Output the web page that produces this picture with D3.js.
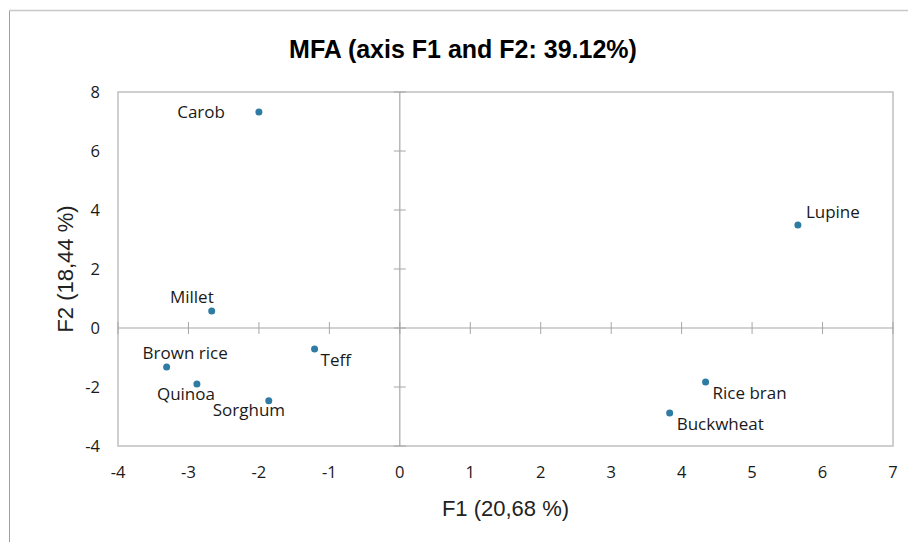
<!DOCTYPE html>
<html>
<head>
<meta charset="utf-8">
<script src="https://cdn.jsdelivr.net/npm/d3@7"></script>
<style>
  html, body { margin: 0; padding: 0; background: #fff; }
  svg { display: block; }
</style>
</head>
<body>
<svg id="chart" width="908" height="542"></svg>
<script>
// ---- data ----
const names = ["Carob", "Millet", "Brown rice", "Quinoa", "Sorghum", "Teff", "Lupine", "Rice bran", "Buckwheat"];
const f1 = [-2.00, -2.67, -3.31, -2.88, -1.86, -1.21, 5.65, 4.34, 3.83];
const f2 = [7.32, 0.58, -1.32, -1.90, -2.47, -0.71, 3.49, -1.83, -2.88];
const xTicks = [-4, -3, -2, -1, 0, 1, 2, 3, 4, 5, 6, 7];
const yTicks = [-4, -2, 0, 2, 4, 6, 8];
const titleText = "MFA (axis F1 and F2: 39.12%)";
const xTitle = "F1 (20,68 %)";
const yTitle = "F2 (18,44 %)";

// label placement (style): anchor, dx, dy (center offset)
const labelPlace = {
  "Carob": ["end", -34, 0],
  "Millet": ["end", 2, -14],
  "Brown rice": ["start", -24, -14],
  "Quinoa": ["start", -40, 10],
  "Sorghum": ["start", -56, 9],
  "Teff": ["start", 6, 11],
  "Lupine": ["start", 8, -13],
  "Rice bran": ["start", 7, 11],
  "Buckwheat": ["start", 7, 11]
};

const svg = d3.select("#chart");
const L = 118, R = 893, T = 92, B = 446;
const x = d3.scaleLinear().domain([-4, 7]).range([L, R]);
const y = d3.scaleLinear().domain([-4, 8]).range([B, T]);

const gridCol = "#bfbfbf";
const axisCol = "#a6a6a6";
const font = "'Open Sans', 'Noto Sans', sans-serif";

// outer chart border (top and left visible)
svg.append("line").attr("x1", 9.5).attr("x2", 908).attr("y1", 10.5).attr("y2", 10.5)
  .attr("stroke", "#c8c8c8").attr("stroke-width", 1.5);
svg.append("line").attr("x1", 9.5).attr("x2", 9.5).attr("y1", 10.5).attr("y2", 542)
  .attr("stroke", "#a0a0a0").attr("stroke-width", 1);

// title
svg.append("text").attr("x", 463).attr("y", 58).attr("text-anchor", "middle")
  .style("font-family", "'Liberation Sans', Arial, sans-serif")
  .style("font-weight", "bold").style("font-size", "25px").attr("fill", "#000")
  .text(titleText);

// plot box
svg.append("rect").attr("x", L).attr("y", T).attr("width", R - L).attr("height", B - T)
  .attr("fill", "none").attr("stroke", gridCol).attr("stroke-width", 1.5);

// zero axes
svg.append("line").attr("x1", x(0)).attr("x2", x(0)).attr("y1", T).attr("y2", B)
  .attr("stroke", axisCol).attr("stroke-width", 1.2);
svg.append("line").attr("x1", L).attr("x2", R).attr("y1", y(0)).attr("y2", y(0))
  .attr("stroke", axisCol).attr("stroke-width", 1.2);

// cross ticks on zero axes
svg.append("g").selectAll("line").data(yTicks).join("line")
  .attr("x1", x(0) - 6).attr("x2", x(0) + 6)
  .attr("y1", d => y(d)).attr("y2", d => y(d))
  .attr("stroke", axisCol).attr("stroke-width", 1);
svg.append("g").selectAll("line").data(xTicks).join("line")
  .attr("x1", d => x(d)).attr("x2", d => x(d))
  .attr("y1", y(0) - 6).attr("y2", y(0) + 6)
  .attr("stroke", axisCol).attr("stroke-width", 1);

// tick labels
svg.append("g").selectAll("text").data(xTicks).join("text")
  .attr("x", d => x(d)).attr("y", 478).attr("text-anchor", "middle")
  .style("font-family", font).style("font-size", "16.5px").attr("fill", "#1a1a1a")
  .text(d => d);
svg.append("g").selectAll("text").data(yTicks).join("text")
  .attr("x", 100).attr("y", d => y(d)).attr("dy", "0.35em").attr("text-anchor", "end")
  .style("font-family", font).style("font-size", "16.5px").attr("fill", "#1a1a1a")
  .text(d => d);

// axis titles
svg.append("text").attr("x", (L + R) / 2).attr("y", 516).attr("text-anchor", "middle")
  .style("font-family", "'Liberation Sans', Arial, sans-serif").style("font-size", "22px")
  .attr("fill", "#222").text(xTitle);
svg.append("text").attr("transform", `translate(73,${(T + B) / 2}) rotate(-90)`)
  .attr("text-anchor", "middle")
  .style("font-family", "'Liberation Sans', Arial, sans-serif").style("font-size", "22px")
  .attr("fill", "#222").text(yTitle);

// points
const pts = names.map((n, i) => ({ name: n, f1: f1[i], f2: f2[i] }));
svg.append("g").selectAll("circle").data(pts).join("circle")
  .attr("cx", d => x(d.f1)).attr("cy", d => y(d.f2)).attr("r", 3.5)
  .attr("fill", "#2e7ba3");

// labels
svg.append("g").selectAll("text").data(pts).join("text")
  .attr("x", d => x(d.f1) + labelPlace[d.name][1])
  .attr("y", d => y(d.f2) + labelPlace[d.name][2])
  .attr("dy", "0.35em")
  .attr("text-anchor", d => labelPlace[d.name][0])
  .style("font-family", font).style("font-size", "17px").attr("fill", "#1a1a1a")
  .text(d => d.name);
</script>
</body>
</html>
